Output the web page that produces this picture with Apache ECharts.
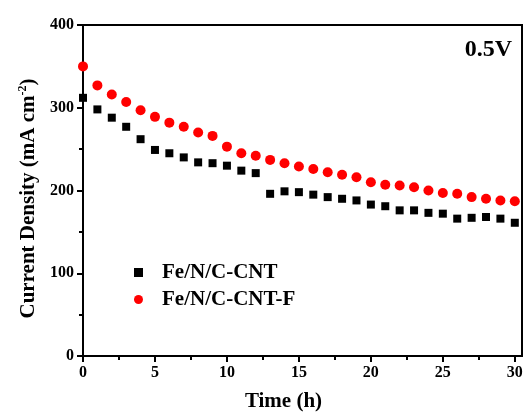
<!DOCTYPE html>
<html>
<head>
<meta charset="utf-8">
<script src="https://cdn.jsdelivr.net/npm/echarts@6/dist/echarts.min.js"></script>
<style>
    html, body { margin: 0; padding: 0; background: #fff; }
    #chart { width: 528px; height: 413px; }
</style>
</head>
<body>
<div id="chart"></div>
<script>
const hours = [0, 1, 2, 3, 4, 5, 6, 7, 8, 9, 10, 11, 12, 13, 14, 15, 16, 17, 18, 19, 20, 21, 22, 23, 24, 25, 26, 27, 28, 29, 30];
const feCnt = [312, 298, 288, 277, 262, 249, 245, 240, 234, 233, 230, 224, 221, 196, 199, 198, 195, 192, 190, 188, 183, 181, 176, 176, 173, 172, 166, 167, 168, 166, 161];
const feCntF = [350, 327, 316, 307, 297, 289, 282, 277, 270, 266, 253, 245, 242, 237, 233, 229, 226, 222, 219, 216, 210, 207, 206, 204, 200, 197, 196, 192, 190, 188, 187];
const xMajorTicks = [0, 5, 10, 15, 20, 25, 30];
const xMinorTicks = [2.5, 7.5, 12.5, 17.5, 22.5, 27.5];

const font = "'Liberation Serif', 'DejaVu Serif', serif";

let myChart = echarts.init(document.getElementById("chart"));

let option = {
    backgroundColor: "#fff",
    animation: false,
    title: {
        text: "0.5V",
        right: 11,
        top: 33,
        textStyle: {
            fontFamily: font,
            fontWeight: "bold",
            fontSize: 24,
            color: "#000"
        }
    },
    legend: {
        orient: "vertical",
        left: 129,
        top: 257,
        itemWidth: 9,
        itemHeight: 9,
        itemGap: 6,
        textStyle: {
            fontFamily: font,
            fontWeight: "bold",
            fontSize: 21,
            color: "#000",
            padding: [0, 0, 0, 14]
        },
        data: [
            { name: "Fe/N/C-CNT", icon: "rect" },
            { name: "Fe/N/C-CNT-F", icon: "circle" }
        ]
    },
    grid: {
        left: 83,
        top: 25,
        right: 6,
        bottom: 57,
        containLabel: false,
        outerBoundsMode: "none",
        show: true,
        borderColor: "#000",
        borderWidth: 2
    },
    xAxis: [
        {
            type: "value",
            min: 0,
            max: 30.5,
            name: "Time (h)",
            nameLocation: "middle",
            nameGap: 35,
            nameTextStyle: {
                fontFamily: font,
                fontWeight: "bold",
                fontSize: 21,
                color: "#000",
                padding: [0, 38, 0, 0]
            },
            axisLine: { lineStyle: { color: "#000", width: 2 } },
            axisTick: {
                customValues: xMajorTicks,
                length: 6,
                lineStyle: { color: "#000", width: 2 }
            },
            axisLabel: {
                customValues: xMajorTicks,
                margin: 9,
                fontFamily: font,
                fontWeight: "bold",
                fontSize: 16,
                color: "#000"
            },
            splitLine: { show: false }
        },
        {
            type: "value",
            min: 0,
            max: 30.5,
            position: "bottom",
            axisLine: { show: false },
            axisTick: {
                customValues: xMinorTicks,
                length: 4,
                lineStyle: { color: "#000", width: 2 }
            },
            axisLabel: { show: false },
            splitLine: { show: false }
        }
    ],
    yAxis: {
        type: "value",
        min: 0,
        max: 400,
        interval: 100,
        name: "{a|Current Density (mA cm}{s|-2}{a|)}",
        nameLocation: "middle",
        nameGap: 38,
        nameTextStyle: {
            color: "#000",
            padding: [0, 16, 0, 0],
            rich: {
                a: { fontFamily: font, fontWeight: "bold", fontSize: 21, color: "#000" },
                s: { fontFamily: font, fontWeight: "bold", fontSize: 12, color: "#000", verticalAlign: "top", padding: [0, 0, 12, 0] }
            }
        },
        axisLine: { show: true, lineStyle: { color: "#000", width: 2 } },
        axisTick: { show: true, length: 6, lineStyle: { color: "#000", width: 2 } },
        minorTick: { show: true, splitNumber: 2, length: 4, lineStyle: { color: "#000", width: 2 } },
        axisLabel: {
            margin: 9,
            fontFamily: font,
            fontWeight: "bold",
            fontSize: 16,
            color: "#000"
        },
        splitLine: { show: false }
    },
    series: [
        {
            name: "Fe/N/C-CNT",
            type: "scatter",
            symbol: "rect",
            symbolSize: 8,
            itemStyle: { color: "#000", opacity: 1 },
            data: hours.map((h, i) => [h, feCnt[i]])
        },
        {
            name: "Fe/N/C-CNT-F",
            type: "scatter",
            symbol: "circle",
            symbolSize: 10,
            itemStyle: { color: "#ff0000", opacity: 1 },
            data: hours.map((h, i) => [h, feCntF[i]])
        }
    ]
};

myChart.setOption(option);
</script>
</body>
</html>
